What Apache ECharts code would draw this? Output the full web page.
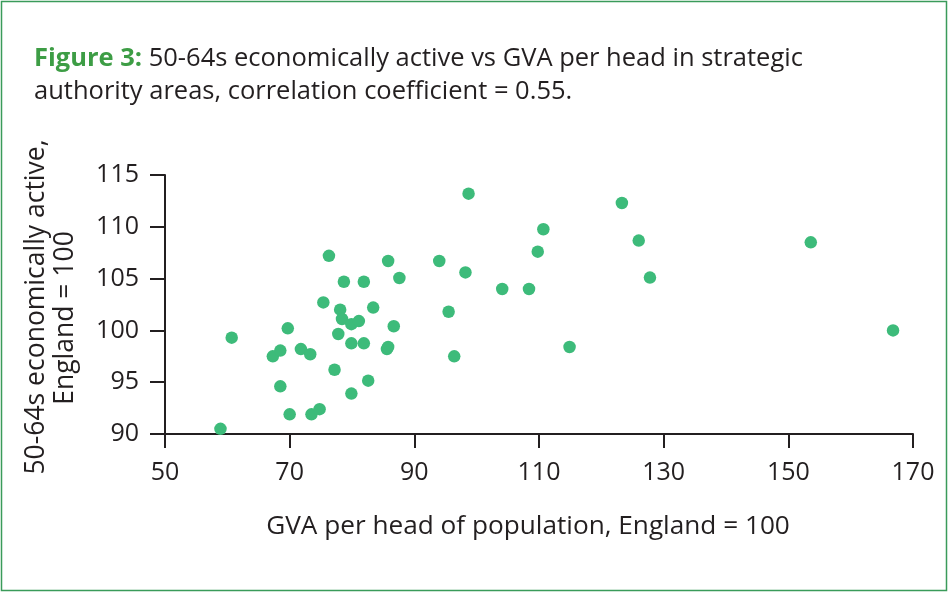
<!DOCTYPE html>
<html>
<head>
<meta charset="utf-8">
<script src="https://cdn.jsdelivr.net/npm/echarts@6/dist/echarts.min.js"></script>
<style>
html,body{margin:0;padding:0;background:#fff;}
#c{width:949px;height:594px;}
</style>
</head>
<body>
<div id="c"></div>
<script>
const gvaPerHead = [58.9, 60.7, 69.7, 67.3, 68.5, 68.5, 70.0, 71.8, 73.3, 73.5, 74.8, 75.4, 76.3, 77.2, 77.8, 78.1, 78.4, 78.7, 79.9, 81.1, 79.9, 79.9, 81.9, 81.9, 82.6, 83.4, 85.8, 86.7, 85.6, 85.8, 87.6, 98.7, 94.0, 98.2, 95.5, 96.4, 104.1, 108.4, 109.8, 110.7, 114.9, 123.3, 126.0, 127.8, 153.6, 166.8];
const active5064 = [90.5, 99.3, 100.2, 97.5, 98.05, 94.6, 91.9, 98.2, 97.7, 91.9, 92.4, 102.7, 107.2, 96.2, 99.65, 102.0, 101.1, 104.7, 100.6, 100.9, 98.75, 93.9, 104.7, 98.75, 95.15, 102.2, 106.7, 100.4, 98.2, 98.4, 105.06, 113.2, 106.7, 105.6, 101.8, 97.5, 104.0, 104.0, 107.6, 109.76, 98.4, 112.3, 108.67, 105.1, 108.5, 100.0];
const xTicks = {min: 50, max: 170, interval: 20};
const yTicks = {min: 90, max: 115, interval: 5};
const titleBold = 'Figure 3:';
const titleLine1 = ' 50-64s economically active vs GVA per head in strategic';
const titleLine2 = 'authority areas, correlation coefficient = 0.55.';
const xName = 'GVA per head of population, England = 100';
const yName1 = '50-64s economically active,';
const yName2 = 'England = 100';

const FONT = '"Open Sans", Lato, sans-serif';
const INK = '#231f20';
const chart = echarts.init(document.getElementById('c'), null, {renderer: 'canvas'});
const pts = gvaPerHead.map((x, i) => [x, active5064[i]]);
chart.setOption({
  animation: false,
  backgroundColor: '#fff',
  title: {
    left: 29, top: 37,
    text: '{b|' + titleBold + '}{n|' + titleLine1 + '}\n{n|' + titleLine2 + '}',
    textStyle: {
      rich: {
        b: {fontFamily: FONT, fontWeight: 'bold', fontSize: 25.5, color: '#3d9d45', lineHeight: 33},
        n: {fontFamily: FONT, fontWeight: 'normal', fontSize: 25.5, color: INK, lineHeight: 33}
      }
    }
  },
  graphic: [
    {type: 'rect', shape: {x: 1.5, y: 1.5, width: 945, height: 589}, style: {fill: 'none', stroke: '#3a9b5a', lineWidth: 1.5}, silent: true},
    {type: 'text', x: 36, y: 307, rotation: Math.PI / 2, style: {text: yName1, font: '26.5px ' + FONT, fill: INK, align: 'center', verticalAlign: 'middle'}},
    {type: 'text', x: 65, y: 318, rotation: Math.PI / 2, style: {text: yName2, font: '26.5px ' + FONT, fill: INK, align: 'center', verticalAlign: 'middle'}}
  ],
  grid: {left: 165, right: 36, top: 175, bottom: 160, containLabel: false},
  xAxis: {
    type: 'value', min: xTicks.min, max: xTicks.max, interval: xTicks.interval,
    name: xName, nameLocation: 'middle', nameGap: 80,
    nameTextStyle: {fontFamily: FONT, fontSize: 26.2, color: INK, padding: [0, 22, 0, 0]},
    axisLine: {show: true, lineStyle: {color: INK, width: 2}},
    axisTick: {show: true, inside: false, length: 14, lineStyle: {color: INK, width: 2}},
    axisLabel: {fontFamily: FONT, fontSize: 25, color: INK, margin: 26},
    splitLine: {show: false}
  },
  yAxis: {
    type: 'value', min: yTicks.min, max: yTicks.max, interval: yTicks.interval,
    axisLine: {show: true, lineStyle: {color: INK, width: 2}},
    axisTick: {show: true, inside: false, length: 15, lineStyle: {color: INK, width: 2}},
    axisLabel: {fontFamily: FONT, fontSize: 25, color: INK, margin: 26},
    splitLine: {show: false}
  },
  series: [{
    type: 'scatter',
    data: pts,
    symbol: 'circle',
    symbolSize: 12.5,
    itemStyle: {color: '#3dbb7a', opacity: 1}
  }]
});
</script>
</body>
</html>
